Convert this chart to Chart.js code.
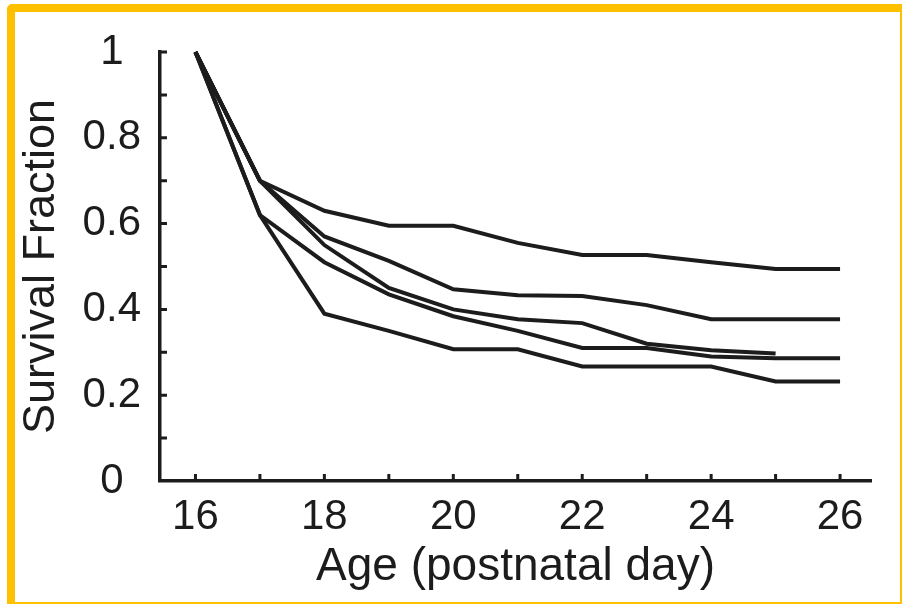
<!DOCTYPE html>
<html>
<head>
<meta charset="utf-8">
<script src="https://cdn.jsdelivr.net/npm/chart.js@4.4.0/dist/chart.umd.min.js"></script>
<style>
  html, body { margin: 0; padding: 0; background: #fff; overflow: hidden; }
  #wrap { position: relative; width: 902px; height: 604px; overflow: hidden; background: #fff; }
  #frame {
    position: absolute; left: 7px; top: 4px; width: 901px; height: 606px;
    box-sizing: border-box; border: 8px solid #FFC000; border-radius: 5px;
    pointer-events: none;
  }
</style>
</head>
<body>
<div id="wrap">
  <canvas id="chart" width="902" height="604"></canvas>
  <div id="frame"></div>
</div>
<script>
// ages (postnatal day)
var ages = [16, 17, 18, 19, 20, 21, 22, 23, 24, 25, 26];

// survival fraction per cohort
var survivalA = [1, 0.70, 0.63, 0.595, 0.595, 0.555, 0.527, 0.527, 0.51, 0.494, 0.494];
var survivalB = [1, 0.70, 0.57, 0.513, 0.447, 0.433, 0.431, 0.41, 0.377, 0.377, 0.377];
var survivalC = [1, 0.70, 0.55, 0.45, 0.40, 0.377, 0.368, 0.32, 0.305, 0.297]; // stops at day 25
var survivalD = [1, 0.62, 0.51, 0.435, 0.384, 0.35, 0.31, 0.31, 0.29, 0.286, 0.286];
var survivalE = [1, 0.62, 0.39, 0.35, 0.307, 0.307, 0.267, 0.267, 0.267, 0.232, 0.232];

// tick labels and tick marks
var xTickLabels = [16, 18, 20, 22, 24, 26];
var yTickLabels = [0, 0.2, 0.4, 0.6, 0.8, 1];
var xTickMarks = [16, 17, 18, 19, 20, 21, 22, 23, 24, 25, 26];
var yTickMarks = [0.1, 0.2, 0.3, 0.4, 0.5, 0.6, 0.7, 0.8, 0.9, 1];

var ink = '#1c1c1c';
var family = '"Liberation Sans", Arial, Helvetica, sans-serif';

function toPoints(values) {
  var pts = [];
  for (var i = 0; i < values.length; i++) {
    pts.push({ x: ages[i], y: values[i] });
  }
  return pts;
}

function lineSet(values) {
  return {
    data: toPoints(values),
    borderColor: ink,
    borderWidth: 4,
    pointRadius: 0,
    tension: 0,
    fill: false,
    clip: false
  };
}

// tick marks point inwards, so draw them ourselves from the scales
var innerTicks = {
  id: 'innerTicks',
  afterDraw: function(chart) {
    var ctx = chart.ctx;
    var x = chart.scales.x, y = chart.scales.y;
    var len = 7;
    ctx.save();
    ctx.strokeStyle = ink;
    ctx.lineWidth = 3;
    ctx.beginPath();
    xTickMarks.forEach(function(v) {
      var px = x.getPixelForValue(v);
      ctx.moveTo(px, y.bottom);
      ctx.lineTo(px, y.bottom - len);
    });
    yTickMarks.forEach(function(v) {
      var py = y.getPixelForValue(v);
      ctx.moveTo(x.left, py);
      ctx.lineTo(x.left + len, py);
    });
    ctx.stroke();
    ctx.restore();
  }
};

new Chart(document.getElementById('chart'), {
  type: 'line',
  data: {
    datasets: [lineSet(survivalA), lineSet(survivalB), lineSet(survivalC), lineSet(survivalD), lineSet(survivalE)]
  },
  options: {
    responsive: false,
    animation: false,
    devicePixelRatio: 1,
    layout: { padding: { top: 52, right: 31, left: 0, bottom: 0 } },
    plugins: { legend: { display: false }, tooltip: { enabled: false } },
    scales: {
      x: {
        type: 'linear',
        min: 15.45,
        max: 26.48,
        afterBuildTicks: function(s) { s.ticks = xTickLabels.map(function(v) { return { value: v }; }); },
        afterFit: function(s) { s.height = 123; },
        grid: { display: false, drawTicks: false },
        border: { display: true, width: 3.5, color: ink },
        ticks: { font: { family: family, size: 42 }, color: ink, padding: 11, maxRotation: 0, autoSkip: false },
        title: {
          display: true, text: 'Age (postnatal day)', color: ink,
          font: { family: family, size: 46 }, padding: { top: 0, bottom: 9 }
        }
      },
      y: {
        min: 0,
        max: 1,
        afterBuildTicks: function(s) { s.ticks = yTickLabels.map(function(v) { return { value: v }; }); },
        afterFit: function(s) { s.width = 160; },
        grid: { display: false, drawTicks: false },
        border: { display: true, width: 3.5, color: ink },
        ticks: {
          font: { family: family, size: 42 }, color: ink, padding: 19, autoSkip: false,
          crossAlign: 'center',
          callback: function(v) { return String(v); }
        },
        title: {
          display: true, text: 'Survival Fraction', color: ink,
          font: { family: family, size: 45 }, padding: { top: 15, bottom: 0 }
        }
      }
    }
  },
  plugins: [innerTicks]
});
</script>
</body>
</html>
